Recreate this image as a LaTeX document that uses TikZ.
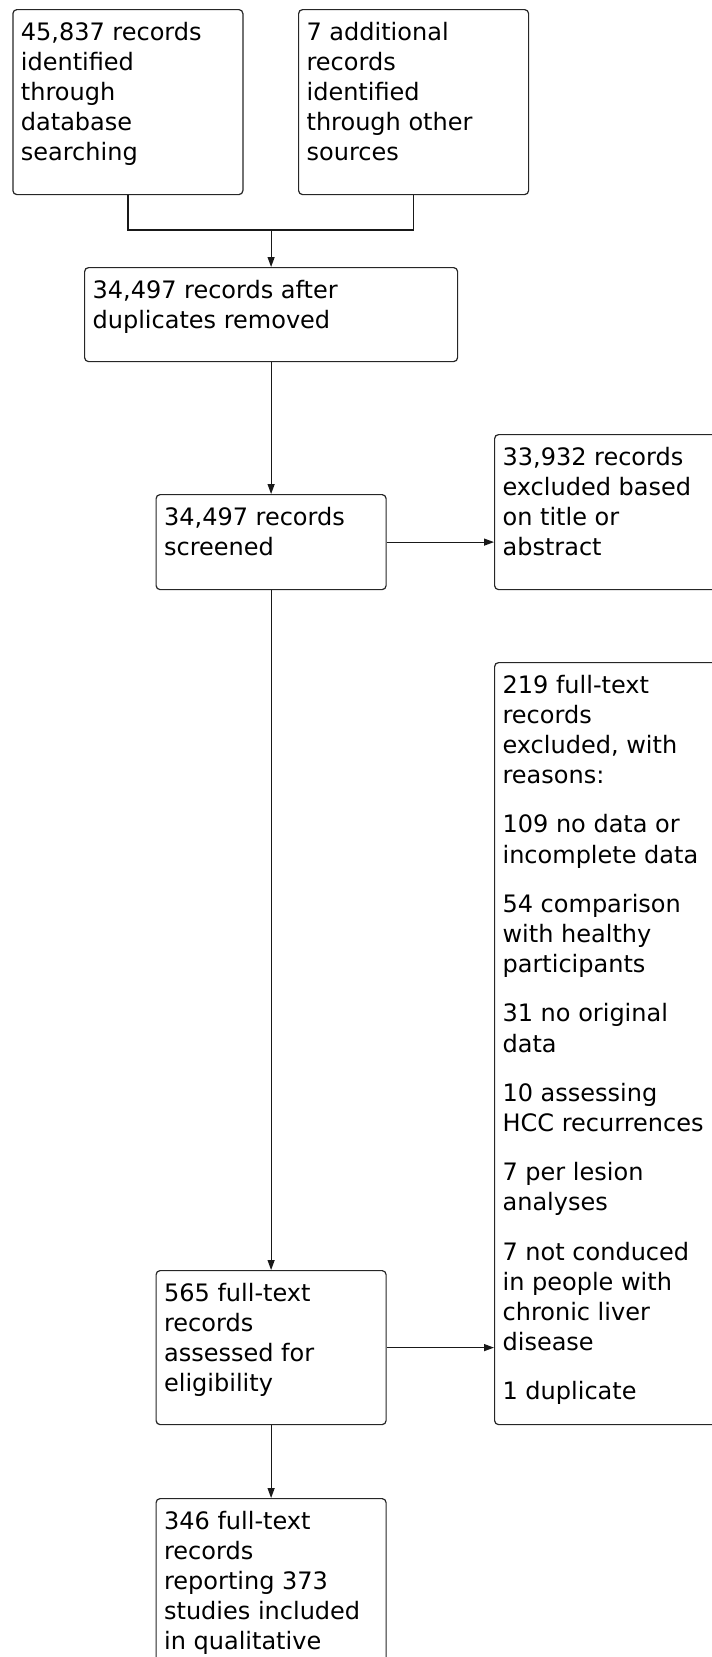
\documentclass[tikz,border=0pt]{standalone}
\usepackage{fontspec}
\setmainfont{DejaVu Sans}
\usetikzlibrary{arrows.meta}
\tikzset{
  box/.style={draw=black!85, rounded corners=4pt, line width=1.2pt, anchor=north west,
    inner xsep=8pt, inner ysep=0pt, align=left},
  conn/.style={line width=1.2pt, draw=black!90},
  arr/.style={conn, -{Triangle[length=10pt,width=7pt]}}
}
\newcommand{\btext}[3]{\parbox[c][#2][t]{#1}{\raggedright\rule{0pt}{30.5pt}#3}}
\begin{document}
\begin{tikzpicture}[x=1pt,y=1pt,font=\fontsize{24}{30.2}\selectfont]
\useasboundingbox (0,0) rectangle (712,-1657);
\clip (0,0) rectangle (712,-1657);
\node[box] (A) at (12.3,-9) {\btext{214pt}{185pt}{45,837 records\\identified\\through\\database\\searching}};
\node[box] (B) at (298,-9) {\btext{214pt}{185pt}{7 additional\\records\\identified\\through other\\sources}};
\node[box] (C) at (84,-267) {\btext{357pt}{94pt}{34,497 records after\\duplicates removed}};
\node[box] (D) at (155.5,-494) {\btext{214pt}{95pt}{34,497 records\\screened}};
\node[box] (E) at (494,-434) {\btext{224pt}{155pt}{33,932 records\\excluded based\\on title or\\abstract}};
\node[box] (G) at (494,-662) {\btext{224pt}{762pt}{219 full-text\\records\\excluded, with\\reasons:\\[19pt]109 no data or\\incomplete data\\[19pt]54 comparison\\with healthy\\participants\\[19pt]31 no original\\data\\[19pt]10 assessing\\HCC recurrences\\[19pt]7 per lesion\\analyses\\[19pt]7 not conduced\\in people with\\chronic liver\\disease\\[19pt]1 duplicate}};
\node[box] (F) at (155.5,-1270) {\btext{214pt}{154pt}{565 full-text\\records\\assessed for\\eligibility}};
\node[box] (H) at (155.5,-1498) {\btext{214pt}{220pt}{346 full-text\\records\\reporting 373\\studies included\\in qualitative}};
\coordinate (j) at (C.north |- 0,-230);
\draw[conn] (A.south) |- (j) -| (B.south);
\draw[arr] (j) -- (C.north);
\draw[arr] (C.south) -- (D.north);
\draw[arr] (D.east) -- (D.east -| E.west);
\draw[arr] (D.south) -- (F.north);
\draw[arr] (F.east) -- (F.east -| G.west);
\draw[arr] (F.south) -- (H.north);
\end{tikzpicture}
\end{document}
